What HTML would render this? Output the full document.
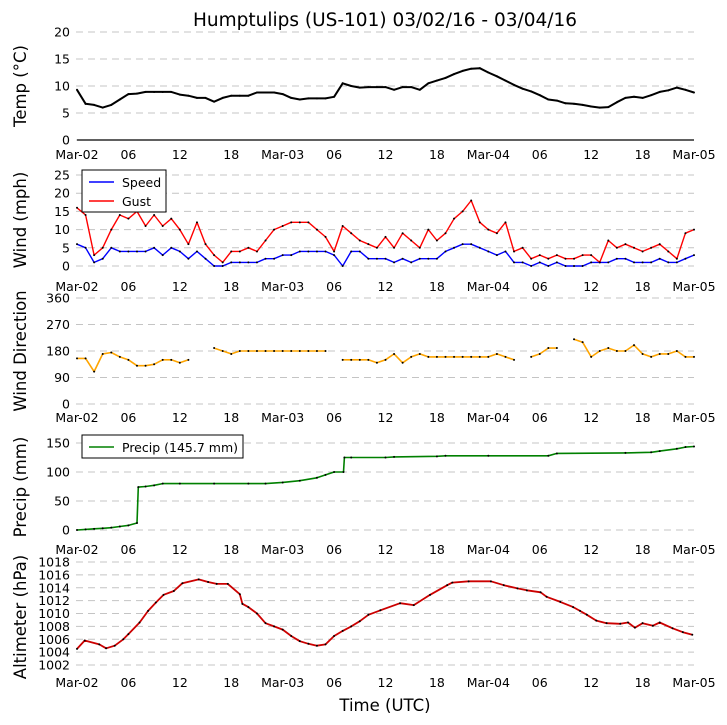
<!DOCTYPE html>
<html><head><meta charset="utf-8"><style>
body{margin:0;background:#fff;}
svg{display:block;font-family:"DejaVu Sans","Liberation Sans",sans-serif;}
</style></head><body>
<svg id="chart" width="727" height="725" viewBox="0 0 727 725" xmlns="http://www.w3.org/2000/svg">
<text x="385" y="26" font-size="18.5" text-anchor="middle">Humptulips (US-101) 03/02/16 - 03/04/16</text>
<text x="385" y="711" font-size="16.5" text-anchor="middle">Time (UTC)</text>
<g id="layer"></g>
</svg>
<script>
const xTickLabels=["Mar-02","06","12","18","Mar-03","06","12","18","Mar-04","06","12","18","Mar-05"];
const xTickHours=[0,6,12,18,24,30,36,42,48,54,60,66,72];
const tempTicks=[0,5,10,15,20];
const windTicks=[0,5,10,15,20,25];
const dirTicks=[0,90,180,270,360];
const precipTicks=[0,50,100,150];
const altTicks=[1002,1004,1006,1008,1010,1012,1014,1016,1018];
const temp=[9.3,6.7,6.5,6.0,6.5,7.5,8.5,8.6,8.9,8.9,8.9,8.9,8.4,8.2,7.8,7.8,7.1,7.8,8.2,8.2,8.2,8.8,8.8,8.8,8.5,7.8,7.5,7.7,7.7,7.7,8.0,10.5,10.0,9.7,9.8,9.8,9.8,9.3,9.8,9.8,9.3,10.5,11.0,11.5,12.2,12.8,13.2,13.3,12.5,11.8,11.0,10.2,9.5,9.0,8.3,7.5,7.3,6.8,6.7,6.5,6.2,6.0,6.1,7.0,7.8,8.0,7.8,8.3,8.9,9.2,9.7,9.3,8.8];
const speed=[6,5,1,2,5,4,4,4,4,5,3,5,4,2,4,2,0,0,1,1,1,1,2,2,3,3,4,4,4,4,3,0,4,4,2,2,2,1,2,1,2,2,2,4,5,6,6,5,4,3,4,1,1,0,1,0,1,0,0,0,1,1,1,2,2,1,1,1,2,1,1,2,3];
const gust=[16,14,3,5,10,14,13,15,11,14,11,13,10,6,12,6,3,1,4,4,5,4,7,10,11,12,12,12,10,8,4,11,9,7,6,5,8,5,9,7,5,10,7,9,13,15,18,12,10,9,12,4,5,2,3,2,3,2,2,3,3,1,7,5,6,5,4,5,6,4,2,9,10];
const dir=[155,155,110,170,175,160,150,130,130,135,150,150,140,150,null,null,190,180,170,180,180,180,180,180,180,180,180,180,180,180,null,150,150,150,150,140,150,170,140,160,170,160,160,160,160,160,160,160,160,170,160,150,null,160,170,190,190,null,220,210,160,180,190,180,180,200,170,160,170,170,180,160,160];
const precipHours=[0,1,2,3,4,5,6,7,7.15,8,9,10,12,16,20,22,24,26,28,29,30,31.1,31.2,32,36,37,42,43,48,55,56,64,67,68,70,71,72];
const precip=[0,1,2,3,4,6,8,12,74,75,77,80,80,80,80,80,82,85,90,95,100,100,125,125,125,126,127,128,128,128,132,133,134,136,140,143,144];
const altHours=[0,0.9,2.6,3.4,4.4,5.4,6,7.3,8.3,9.2,10.1,11.3,12.3,14.2,15.3,16.3,17.6,19,19.3,20,21,22,23,24,25,26,27,28,29,30,31,32,33,34,35.4,37.7,39.3,41.2,43.2,43.8,45.7,48.3,49.8,51.4,52.5,54.1,54.8,56.4,57.9,58.7,59.5,60.6,61.8,63.4,64.3,65.1,66,67.2,68,69.5,70.7,71.8];
const alt=[1004.5,1005.8,1005.2,1004.6,1005.0,1006.0,1006.8,1008.6,1010.4,1011.7,1012.9,1013.5,1014.7,1015.3,1014.9,1014.6,1014.6,1013.0,1011.5,1011.0,1010.0,1008.5,1008.0,1007.5,1006.5,1005.7,1005.3,1005.0,1005.2,1006.5,1007.3,1008.0,1008.8,1009.8,1010.5,1011.6,1011.3,1012.9,1014.4,1014.8,1015.0,1015.0,1014.4,1013.9,1013.6,1013.3,1012.6,1011.8,1011.0,1010.4,1009.8,1008.9,1008.5,1008.4,1008.6,1007.8,1008.5,1008.1,1008.6,1007.7,1007.1,1006.7];

const NS="http://www.w3.org/2000/svg";
const layer=document.getElementById('layer');
const X=h=>77+h*617/72;
function axis(pix0,v0,pxPerUnit){return v=>pix0-(v-v0)*pxPerUnit;}
const yTemp=axis(140,0,5.4), yWind=axis(266,0,3.64), yDir=axis(404,0,106/360), yPrec=axis(530,0,0.58), yAlt=axis(665,1002,6.4375);
function mk(tag,attrs,parent){const e=document.createElementNS(NS,tag);for(const k in attrs)e.setAttribute(k,attrs[k]);(parent||layer).appendChild(e);return e;}
function panel(name,yf,ticks,labelY,title,titleY,solidZero){
  const g=mk('g',{});
  
  
  ticks.forEach((t,i)=>{
    const y=yf(t);
    const l=mk('line',{x1:76,x2:694,y1:y,y2:y,stroke:'#c4c4c4','stroke-width':1,'stroke-dasharray':'7,5'},g);
    
    
    const tx=mk('text',{x:70,y:y+4.5,'font-size':12.5,'text-anchor':'end'},g);
    tx.textContent=t;
    
    
  });
  if(solidZero){
    const s=mk('line',{x1:77,x2:694,y1:yf(0),y2:yf(0),stroke:'#000','stroke-width':1.3},g);
    
    
  }
  xTickLabels.forEach((lab,i)=>{
    const tx=mk('text',{x:X(xTickHours[i]),y:labelY,'font-size':12.5,'text-anchor':'middle'},g);
    tx.textContent=lab;
    
    
  });
  const tt=mk('text',{x:0,y:0,'font-size':16.5,'text-anchor':'middle',transform:`translate(26,${titleY}) rotate(-90)`},g);
  tt.textContent=title;
  
  
}
function series(name,hours,vals,yf,color,w){
  const g=mk('g',{});
  
  
  let d='',pen=false;
  vals.forEach((v,i)=>{
    if(v===null){pen=false;return;}
    d+=(pen?'L':'M')+X(hours[i]).toFixed(1)+' '+yf(v).toFixed(1);pen=true;
  });
  const p=mk('path',{d:d,fill:'none',stroke:color,'stroke-width':w,'stroke-linejoin':'round'},g);
  
  
  vals.forEach((v,i)=>{
    if(v===null)return;
    const c=mk('circle',{cx:X(hours[i]),cy:yf(v),r:1,fill:'#000'},g);
    
    
  });
}
const hrs=temp.map((_,i)=>i);
panel('temp',yTemp,tempTicks,159,'Temp (\u00B0C)',86,true);
panel('wind',yWind,windTicks,291,'Wind (mph)',220,false);
panel('direction',yDir,dirTicks,422,'Wind Direction',351,false);
panel('precip',yPrec,precipTicks,554,'Precip (mm)',487,false);
panel('altimeter',yAlt,altTicks,687,'Altimeter (hPa)',617,false);
series('temp',hrs,temp,yTemp,'#000',2);
series('speed',hrs,speed,yWind,'#0000ff',1.4);
series('gust',hrs,gust,yWind,'#ff0000',1.4);
series('direction',hrs,dir,yDir,'#ffa500',1.6);
series('precip',precipHours,precip,yPrec,'#008000',1.6);
series('altimeter',altHours,alt,yAlt,'#cc0000',1.8);
function legend(name,x,y,w,h,entries){
  const g=mk('g',{});
  
  
  mk('rect',{x:x,y:y,width:w,height:h,fill:'#fff',stroke:'#000','stroke-width':1},g);
  entries.forEach((e,i)=>{
    const yy=y+12+i*19;
    const l=mk('line',{x1:x+7,x2:x+32,y1:yy,y2:yy,stroke:e[1],'stroke-width':1.5},g);
    
    
    const t=mk('text',{x:x+40,y:yy+5,'font-size':12.5},g);
    t.textContent=e[0];
    
    
  });
}
legend('wind-legend',82,170,84,42,[['Speed','#0000ff'],['Gust','#ff0000']]);
legend('precip-legend',82,435,161,23,[['Precip (145.7 mm)','#008000']]);
</script>
</body></html>
